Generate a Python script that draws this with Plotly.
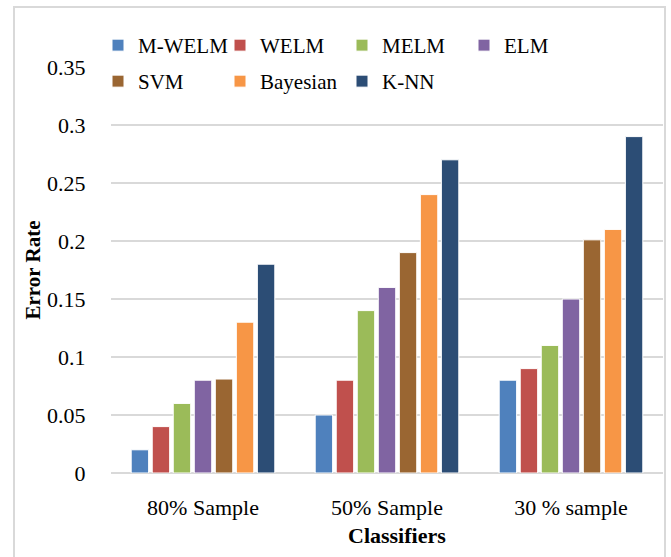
import plotly.graph_objects as go

categories = ["80% Sample", "50% Sample", "30 % sample"]
series_names = ["M-WELM", "WELM", "MELM", "ELM", "SVM", "Bayesian", "K-NN"]
m_welm = [0.02, 0.05, 0.08]
welm = [0.04, 0.08, 0.09]
melm = [0.06, 0.14, 0.11]
elm = [0.08, 0.16, 0.15]
svm = [0.081, 0.19, 0.201]
bayesian = [0.13, 0.24, 0.21]
knn = [0.18, 0.27, 0.29]
colors = ["#4F81BD", "#C0504D", "#9BBB59", "#8064A2", "#9A6632", "#F79646", "#2C4D75"]
legend_rows = ["legend", "legend", "legend", "legend", "legend2", "legend2", "legend2"]
y_ticks = [0, 0.05, 0.1, 0.15, 0.2, 0.25, 0.3, 0.35]
y_tick_labels = ["0", "0.05", "0.1", "0.15", "0.2", "0.25", "0.3", "0.35"]
x_title = "Classifiers"
y_title = "Error Rate"

series_values = [m_welm, welm, melm, elm, svm, bayesian, knn]

FONT = "Times New Roman, Liberation Serif, serif"

fig = go.Figure()
for name, vals, col, lg in zip(series_names, series_values, colors, legend_rows):
    fig.add_trace(go.Bar(
        x=categories, y=vals, name=name, legend=lg,
        marker=dict(color=col, line=dict(color="white", width=1)),
    ))

W, H = 671, 557
L, R, T, B = 111, 8, 67, 84
pw, ph = W - L - R, H - T - B

def px_x(x):
    return (x - L) / pw

def px_y(y):
    return (H - B - y) / ph

legend_common = dict(
    orientation="h", xanchor="left", yanchor="top",
    entrywidth=77, entrywidthmode="pixels",
    font=dict(family=FONT, size=21, color="black"),
    bgcolor="rgba(0,0,0,0)", itemclick=False, itemdoubleclick=False,
    traceorder="normal",
)

fig.update_layout(
    width=W, height=H,
    margin=dict(l=L, r=R, t=T, b=B),
    paper_bgcolor="white", plot_bgcolor="white",
    font=dict(family=FONT, size=22, color="black"),
    barmode="group", bargap=0.2, bargroupgap=0.17,
    showlegend=True,
    legend=dict(x=px_x(98), y=px_y(25), **legend_common),
    legend2=dict(x=px_x(98), y=px_y(61), **legend_common),
    xaxis=dict(
        showgrid=False, showline=False, ticks="outside", ticklen=15,
        tickcolor="rgba(0,0,0,0)", tickfont=dict(family=FONT, size=22),
    ),
    yaxis=dict(
        range=[0, 0.35], tickvals=y_ticks, ticktext=y_tick_labels,
        showgrid=True, gridcolor="#D9D9D9", gridwidth=1.5,
        zeroline=True, zerolinecolor="#D9D9D9", zerolinewidth=1.5,
        showline=False, ticks="outside", ticklen=20, tickcolor="rgba(0,0,0,0)",
        tickfont=dict(family=FONT, size=22),
        title=dict(text="<b>" + y_title + "</b>", font=dict(family=FONT, size=21), standoff=0),
    ),
    annotations=[dict(
        text="<b>" + x_title + "</b>", xref="paper", yref="paper",
        x=px_x(397), y=px_y(535), xanchor="center", yanchor="middle",
        showarrow=False, font=dict(family=FONT, size=22, color="black"),
    )],
    shapes=[dict(
        type="rect", xref="paper", yref="paper",
        x0=px_x(14), x1=px_x(665), y0=px_y(570), y1=px_y(7),
        line=dict(color="#D9D9D9", width=2), fillcolor="rgba(0,0,0,0)", layer="below",
    )],
)

fig.write_html("out.html")
